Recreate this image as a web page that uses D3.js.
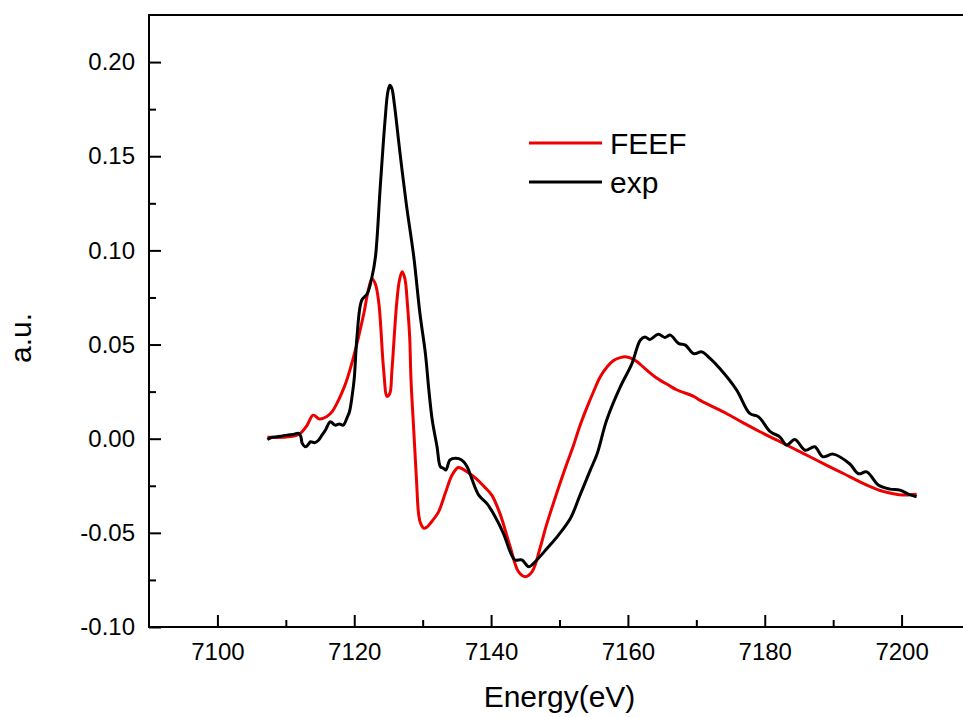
<!DOCTYPE html>
<html>
<head>
<meta charset="utf-8">
<script src="https://cdn.jsdelivr.net/npm/d3@7"></script>
<style>
  body { margin: 0; background: #fff; }
  svg { display: block; font-family: "Liberation Sans", Arial, sans-serif; }
</style>
</head>
<body>
<div id="chart"></div>
<script>
// FEEF (calculated) spectrum
const feefEnergy = [7107.3, 7110.7, 7112.1, 7113.1, 7114.0, 7114.9, 7116.0, 7116.8, 7117.5, 7118.2, 7118.8, 7119.9,
    7121.4, 7122.0, 7122.6, 7123.1, 7123.6, 7124.3, 7124.8, 7125.2, 7125.5, 7126.2, 7126.6, 7127.0, 7127.4, 7127.8,
    7128.1, 7128.3, 7128.7, 7129.1, 7129.4, 7129.7, 7130.2, 7130.6, 7131.1, 7132.3, 7133.3, 7134.3, 7135.2, 7135.8,
    7136.5, 7137.9, 7139.0, 7140.1, 7141.3, 7142.8, 7144.0, 7145.0, 7146.0, 7147.2, 7148.0, 7149.0, 7150.0, 7151.0,
    7152.0, 7153.0, 7154.0, 7155.0, 7155.9, 7157.0, 7157.9, 7159.0, 7159.6, 7160.5, 7161.3, 7162.5, 7164.2, 7166.0,
    7167.1, 7169.6, 7170.5, 7172.0, 7174.4, 7176.8, 7179.3, 7181.8, 7184.2, 7186.6, 7189.0, 7191.5, 7193.9, 7195.6,
    7197.3, 7198.8, 7200.2, 7201.2, 7202.2];
const feefValue = [0.0007, 0.0011, 0.0028, 0.0071, 0.0125, 0.0105, 0.0118, 0.0145, 0.0190, 0.0245, 0.0300, 0.0435,
    0.0665, 0.0780, 0.0850, 0.0820, 0.0718, 0.0364, 0.0225, 0.0240, 0.0360, 0.0718, 0.0840, 0.0886, 0.0850, 0.0700,
    0.0540, 0.0310, 0.0043, -0.0220, -0.0397, -0.0450, -0.0476, -0.0470, -0.0450, -0.0390, -0.0290, -0.0193, -0.0153, -0.0160,
    -0.0176, -0.0215, -0.0255, -0.0300, -0.0398, -0.0575, -0.0706, -0.0733, -0.0706, -0.0575, -0.0470, -0.0355, -0.0245, -0.0140,
    -0.0040, 0.0070, 0.0165, 0.0252, 0.0325, 0.0383, 0.0415, 0.0432, 0.0435, 0.0427, 0.0410, 0.0372, 0.0322, 0.0283,
    0.0260, 0.0225, 0.0205, 0.0177, 0.0134, 0.0085, 0.0037, -0.0008, -0.0052, -0.0096, -0.0140, -0.0185, -0.0229, -0.0257,
    -0.0280, -0.0292, -0.0299, -0.0298, -0.0295];

// experimental spectrum
const expEnergy = [7107.3, 7108.0, 7108.7, 7109.5, 7110.2, 7111.0, 7111.9, 7112.2, 7112.4, 7112.9, 7113.3, 7113.6,
    7114.2, 7114.8, 7115.3, 7115.8, 7116.5, 7117.2, 7117.8, 7118.4, 7119.0, 7119.3, 7119.7, 7120.0, 7120.4, 7121.1,
    7121.9, 7122.6, 7123.1, 7123.8, 7124.5, 7124.9, 7125.2, 7125.5, 7125.85, 7126.7, 7127.6, 7128.7, 7129.6, 7130.4,
    7130.9, 7131.4, 7132.1, 7132.6, 7133.05, 7133.4, 7134.0, 7134.8, 7135.7, 7136.5, 7137.2, 7138.2, 7139.4, 7140.6,
    7141.8, 7143.0, 7143.5, 7144.5, 7145.5, 7146.4, 7148.2, 7149.85, 7151.6, 7153.0, 7154.5, 7155.5, 7156.9, 7158.9,
    7160.6, 7161.8, 7162.5, 7163.2, 7164.45, 7165.4, 7166.2, 7167.4, 7168.4, 7169.6, 7170.8, 7172.0, 7173.5, 7175.9,
    7177.8, 7179.1, 7180.8, 7182.2, 7183.2, 7184.4, 7185.9, 7187.3, 7188.5, 7190.0, 7192.4, 7193.7, 7194.9, 7196.6,
    7198.3, 7199.75, 7201.0, 7202.2];
const expValue = [-0.0004, 0.0008, 0.0010, 0.0015, 0.0019, 0.0022, 0.0028, 0.0010, -0.0025, -0.0043, -0.0030, -0.0016,
    -0.0022, -0.0007, 0.0020, 0.0046, 0.0090, 0.0072, 0.0078, 0.0072, 0.0116, 0.0143, 0.0230, 0.0320, 0.0540, 0.0736,
    0.0770, 0.0860, 0.0966, 0.1337, 0.1690, 0.1840, 0.1877, 0.1860, 0.1780, 0.1513, 0.1248, 0.0966, 0.0665, 0.0452,
    0.0260, 0.0099, -0.0043, -0.0149, -0.0157, -0.0166, -0.0113, -0.0104, -0.0113, -0.0149, -0.0215, -0.0300, -0.0345, -0.0414,
    -0.0503, -0.0618, -0.0644, -0.0644, -0.0680, -0.0655, -0.0582, -0.0512, -0.0423, -0.0300, -0.0167, -0.0080, 0.0099, 0.0276,
    0.0400, 0.0523, 0.0540, 0.0527, 0.0555, 0.0538, 0.0550, 0.0506, 0.0497, 0.0452, 0.0461, 0.0426, 0.0370, 0.0258,
    0.0134, 0.0116, 0.0037, 0.0010, -0.0034, -0.0004, -0.0061, -0.0043, -0.0096, -0.0082, -0.0133, -0.0186, -0.0176, -0.0246,
    -0.0268, -0.0273, -0.0294, -0.0308];

const xMajorTicks = [7100, 7120, 7140, 7160, 7180, 7200];
const xMinorTicks = [7110, 7130, 7150, 7170, 7190];
const yMajorTicks = [-0.10, -0.05, 0.00, 0.05, 0.10, 0.15, 0.20];
const yMinorTicks = [-0.075, -0.025, 0.025, 0.075, 0.125, 0.175];

const seriesNames = ["FEEF", "exp"];
const seriesColors = ["#ee0000", "#000000"];

const width = 963, height = 717;
const margin = { top: 15, left: 149, right: -7, bottom: 90 };

const svg = d3.select("#chart").append("svg")
    .attr("width", width)
    .attr("height", height);

const x = d3.scaleLinear()
    .domain([7090, 7210])
    .range([margin.left, width - margin.right]);

const y = d3.scaleLinear()
    .domain([-0.10, 0.225])
    .range([height - margin.bottom, margin.top]);

// frame
svg.append("rect")
    .attr("x", x(7090))
    .attr("y", y(0.225))
    .attr("width", x(7210) - x(7090))
    .attr("height", y(-0.10) - y(0.225))
    .attr("fill", "none")
    .attr("stroke", "#000")
    .attr("stroke-width", 2);

// x axis (ticks point inward)
svg.append("g")
    .attr("transform", `translate(0, ${y(-0.10)})`)
    .call(d3.axisBottom(x).tickValues(xMajorTicks).tickSizeInner(-12).tickSizeOuter(0).tickPadding(16).tickFormat(d => String(d)));
svg.append("g")
    .attr("transform", `translate(0, ${y(-0.10)})`)
    .call(d3.axisBottom(x).tickValues(xMinorTicks).tickSizeInner(-7).tickSizeOuter(0).tickFormat(""));

// y axis
svg.append("g")
    .attr("transform", `translate(${x(7090)}, 0)`)
    .call(d3.axisLeft(y).tickValues(yMajorTicks).tickSizeInner(-12).tickSizeOuter(0).tickPadding(14).tickFormat(d => d.toFixed(2)));
svg.append("g")
    .attr("transform", `translate(${x(7090)}, 0)`)
    .call(d3.axisLeft(y).tickValues(yMinorTicks).tickSizeInner(-7).tickSizeOuter(0).tickFormat(""));

svg.selectAll(".domain").attr("stroke", "none");
svg.selectAll(".tick line").attr("stroke", "#000").attr("stroke-width", 2);
svg.selectAll(".tick text")
    .attr("font-family", "'Liberation Sans', Arial, sans-serif")
    .attr("font-size", 24)
    .attr("fill", "#000");

// axis titles
svg.append("text")
    .attr("x", (x(7090) + x(7210)) / 2)
    .attr("y", 707)
    .attr("text-anchor", "middle")
    .attr("font-size", 30)
    .text("Energy(eV)");

svg.append("text")
    .attr("transform", "translate(31, 338) rotate(-90)")
    .attr("text-anchor", "middle")
    .attr("font-size", 30)
    .text("a.u.");

// curves
const feefData = feefEnergy.map((e, i) => ({ e: e, v: feefValue[i] }));
const expData = expEnergy.map((e, i) => ({ e: e, v: expValue[i] }));

const line = d3.line()
    .x(d => x(d.e))
    .y(d => y(d.v))
    .curve(d3.curveCatmullRom.alpha(0.5));

svg.append("path")
    .datum(feefData)
    .attr("fill", "none")
    .attr("stroke", seriesColors[0])
    .attr("stroke-width", 3)
    .attr("stroke-linejoin", "round")
    .attr("d", line);

svg.append("path")
    .datum(expData)
    .attr("fill", "none")
    .attr("stroke", seriesColors[1])
    .attr("stroke-width", 3)
    .attr("stroke-linejoin", "round")
    .attr("d", line);

// legend
const legend = svg.append("g")
    .attr("transform", "translate(529, 143)");

seriesNames.forEach((name, i) => {
    legend.append("line")
        .attr("x1", 0).attr("x2", 73)
        .attr("y1", i * 39).attr("y2", i * 39)
        .attr("stroke", seriesColors[i])
        .attr("stroke-width", 3);
    legend.append("text")
        .attr("x", 81)
        .attr("y", i * 39 + 11)
        .attr("font-size", 30)
        .text(name);
});
</script>
</body>
</html>
